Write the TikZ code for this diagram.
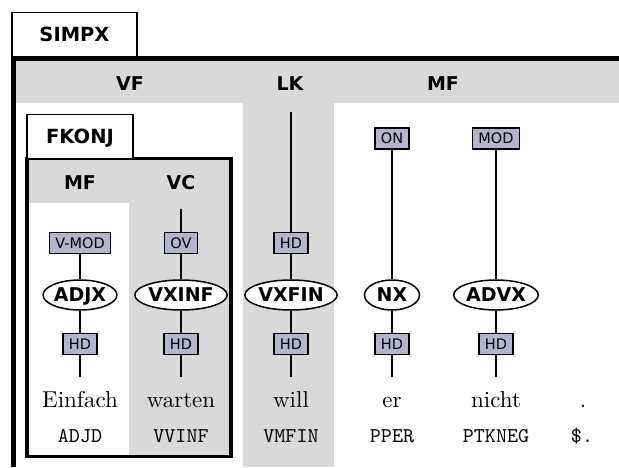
\documentclass[tikz,border=0pt]{standalone}
\usepackage{fontspec}
\newfontfamily\dv{DejaVu Sans}
\newfontfamily\lmr[Extension=.otf]{lmroman10-regular}
\newfontfamily\lmt[Extension=.otf]{lmmono10-regular}
\usetikzlibrary{shapes.geometric}
\definecolor{bandgray}{RGB}{217,217,217}
\definecolor{lblfill}{RGB}{180,180,204}
\begin{document}
\begin{tikzpicture}[x=1pt,y=-1pt,
  tabbox/.style={draw, line width=1.3pt, fill=white, inner sep=0pt, text height=13pt, text depth=0pt, font=\dv\bfseries\fontsize{19.5}{21}\selectfont},
  fieldlbl/.style={inner sep=0pt, text height=13pt, text depth=0pt, font=\dv\bfseries\fontsize{19}{21}\selectfont},
  fn/.style={draw, line width=1.3pt, fill=lblfill, inner xsep=6pt, inner ysep=0pt, minimum height=21pt, text height=10.5pt, text depth=0pt, font=\dv\fontsize{14.5}{15}\selectfont},
  cat/.style={ellipse, draw, line width=1.5pt, fill=white, inner sep=0pt, minimum height=30pt, text height=13.5pt, text depth=0pt, font=\dv\bfseries\fontsize{19}{21}\selectfont},
  word/.style={anchor=base, inner sep=0pt, font=\lmr\fontsize{23}{25}\selectfont},
  tag/.style={anchor=base, inner sep=0pt, font=\lmt\fontsize{21}{24}\selectfont},
  edge/.style={line width=1.5pt}]
\useasboundingbox (0,0) rectangle (619,467);
\fill[white] (0,0) rectangle (619,467);
% topological fields of SIMPX
\fill[bandgray] (13.5,58) rectangle (619,103);
\fill[bandgray] (243,58) rectangle (334,467);
% FKONJ box
\fill[bandgray] (27,158.5) rectangle (231,203);
\fill[bandgray] (129,203) rectangle (231,456.5);
\draw[line width=3.5pt] (27,158.5) rectangle (231,456.5);
\node[tabbox, minimum width=106pt, minimum height=44pt] (fkonj) at (80,136.5) {FKONJ};
% SIMPX frame
\node[tabbox, minimum width=125pt, minimum height=44pt] (simpx) at (74.5,34.5) {SIMPX};
\draw[line width=5pt] (13.5,467) -- (13.5,58) -- (619,58);
% field labels
\node[fieldlbl] (vf) at (130,83.5) {VF};
\node[fieldlbl] (lk) at (290,83.5) {LK};
\node[fieldlbl] (mfa) at (443,83.5) {MF};
\node[fieldlbl] (mfb) at (80,182.5) {MF};
\node[fieldlbl] (vc) at (181,182.5) {VC};
% function labels
\node[fn] (vmod) at (80,243) {V-MOD};
\node[fn] (ov) at (181,243) {OV};
\node[fn] (hdlk) at (291,243) {HD};
\node[fn] (on) at (392,138.5) {ON};
\node[fn] (mod) at (496,138.5) {MOD};
% phrases
\node[cat, minimum width=70pt] (adjx) at (80,295) {ADJX};
\node[cat, minimum width=82pt] (vxinf) at (181,295) {VXINF};
\node[cat, minimum width=81pt] (vxfin) at (291,295) {VXFIN};
\node[cat, minimum width=55pt] (nx) at (392,295) {NX};
\node[cat, minimum width=79pt] (advx) at (496,295) {ADVX};
% heads
\node[fn] (hda) at (80,344) {HD};
\node[fn] (hdb) at (181,344) {HD};
\node[fn] (hdc) at (291,344) {HD};
\node[fn] (hdd) at (392,344) {HD};
\node[fn] (hde) at (496,344) {HD};
% free ends
\coordinate (vctop) at (181,209);
\coordinate (lktop) at (291,112);
\coordinate (ea) at (80,377);
\coordinate (eb) at (181,377);
\coordinate (ec) at (291,377);
\coordinate (ed) at (392,377);
\coordinate (ee) at (496,377);
% words and tags
\node[word] (wa) at (80,407) {Einfach};
\node[word] (wb) at (181,407) {warten};
\node[word] (wc) at (291,407) {will};
\node[word] (wd) at (392,407) {er};
\node[word] (we) at (496,407) {nicht};
\node[word] (wf) at (583,407) {.};
\node[tag] (ta) at (80,442) {ADJD};
\node[tag] (tb) at (181,442) {VVINF};
\node[tag] (tc) at (291,442) {VMFIN};
\node[tag] (td) at (392,442) {PPER};
\node[tag] (te) at (496,442) {PTKNEG};
\node[tag] (tf) at (582,442) {\$.};
% connectors
\draw[edge] (vmod) -- (adjx) (adjx) -- (hda) (hda) -- (ea);
\draw[edge] (vctop) -- (ov) (ov) -- (vxinf) (vxinf) -- (hdb) (hdb) -- (eb);
\draw[edge] (lktop) -- (hdlk) (hdlk) -- (vxfin) (vxfin) -- (hdc) (hdc) -- (ec);
\draw[edge] (on) -- (nx) (nx) -- (hdd) (hdd) -- (ed);
\draw[edge] (mod) -- (advx) (advx) -- (hde) (hde) -- (ee);
\end{tikzpicture}
\end{document}
